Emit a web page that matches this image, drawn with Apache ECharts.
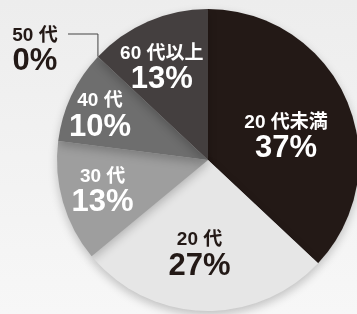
<!DOCTYPE html>
<html>
<head>
<meta charset="utf-8">
<script src="https://cdn.jsdelivr.net/npm/echarts@6/dist/echarts.min.js"></script>
<style>
  html, body { margin: 0; padding: 0; background: #efefef; }
  #chart { width: 357px; height: 314px; }
</style>
</head>
<body>
<div id="chart"></div>
<script>
// 年代別の割合 (%)
const ageGroups = ['20 代未満', '20 代', '30 代', '40 代', '50 代', '60 代以上']
const shares = [37, 27, 13, 10, 0, 13]
const sliceColors = ['#231916', '#e6e6e6', '#9e9e9e', '#6e6e6e', '#5a5a5a', '#443f3f']
const labelColors = ['#fff', '#231916', '#fff', '#fff', '#231916', '#fff']

// inside labels sit a bit off the default r/2 point
const labelShift = [[6, 8], [-6, 16], [-30, 9], [-37, -11], [0, 0], [-15, -20]]

const font = '"Liberation Sans", Arial, "Noto Sans CJK JP", sans-serif'

const chart = echarts.init(document.getElementById('chart'))

const data = ageGroups.map((name, i) => {
  const item = {
    name: name,
    value: shares[i],
    itemStyle: { color: sliceColors[i] },
    label: {
      rich: {
        n: { color: labelColors[i], fontSize: 19, fontWeight: 'bold', fontFamily: font, lineHeight: 23 },
        p: { color: labelColors[i], fontSize: 31, fontWeight: 'bold', fontFamily: font, lineHeight: 29 }
      }
    }
  }
  if (shares[i] === 0) {
    item.label.position = 'outside'
    item.labelLine = { show: true, length: 10, length2: 10, lineStyle: { color: '#444', width: 1 } }
  }
  return item
})

const option = {
  backgroundColor: {
    type: 'linear', x: 0, y: 0, x2: 0, y2: 1,
    colorStops: [{ offset: 0, color: '#ededed' }, { offset: 1, color: '#f7f7f7' }]
  },
  animation: false,
  series: [{
    type: 'pie',
    center: [208, 160],
    radius: 151,
    startAngle: 90,
    clockwise: true,
    avoidLabelOverlap: false,
    itemStyle: {
      borderWidth: 0,
      shadowBlur: 10,
      shadowColor: 'rgba(0,0,0,0.22)',
      shadowOffsetY: 4
    },
    label: {
      show: true,
      position: 'inside',
      formatter: p => '{n|' + p.name + '}\n{p|' + p.value + '%}'
    },
    labelLine: { show: false },
    labelLayout: function (params) {
      const i = params.dataIndex
      if (shares[i] === 0) {
        const start = params.labelLinePoints ? params.labelLinePoints[0] : [98, 57]
        return {
          x: 35, y: 50, align: 'center', verticalAlign: 'middle',
          labelLinePoints: [start, [start[0], 34], [68, 34]]
        }
      }
      return { dx: labelShift[i][0], dy: labelShift[i][1] }
    },
    data: data
  }]
}

chart.setOption(option)
</script>
</body>
</html>
